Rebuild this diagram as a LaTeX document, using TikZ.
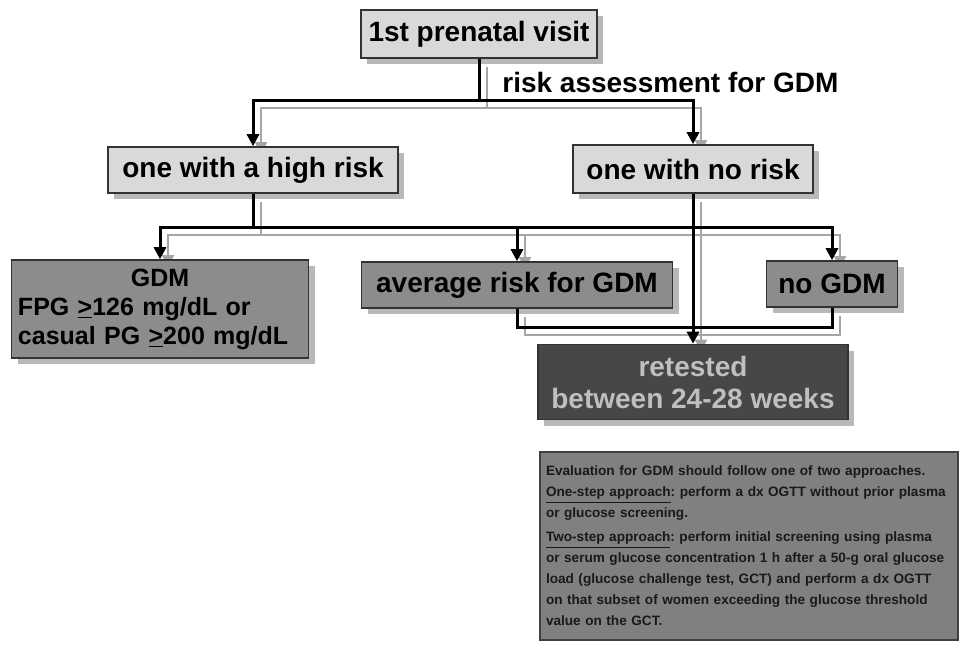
\documentclass[tikz,border=0pt]{standalone}
\usepackage{fontspec}
\setmainfont{Liberation Sans}
\usetikzlibrary{arrows.meta,shadows,backgrounds}

\tikzset{
  box/.style={draw=black!80, line width=0.8pt, inner sep=0pt, align=center,
    font=\bfseries\fontsize{14}{16}\selectfont,
    drop shadow={shadow xshift=3pt, shadow yshift=-3pt, fill=black!28, opacity=1}},
  lightbox/.style={box, fill=black!15},
  midbox/.style={box, fill=black!45},
  darkbox/.style={box, fill=black!72, text=black!25},
  notebox/.style={draw=black!75, line width=0.6pt, fill=black!50, text=black!90,
    inner xsep=3pt, inner ysep=0pt, text width=203pt, minimum height=94pt, align=left,
    font=\bfseries\fontsize{6.8}{10.5}\selectfont\frenchspacing},
  caption/.style={inner sep=0pt, font=\bfseries\fontsize{14}{16}\selectfont},
  link/.style={line width=1.5pt, black},
  linkshade/.style={line width=1pt, black!35},
  tip/.style={-{Triangle[width=6pt,length=6pt]}},
}

% all connectors, drawn once as shadow and once in black
\newcommand{\flowlinks}[1]{%
  \draw[#1] (top.south) -- (top.south |- lvl1);
  \draw[#1, tip] (top.south |- lvl1) -| (high.north);
  \draw[#1, tip] (top.south |- lvl1) -| (norisk.north);
  \draw[#1] (high.south) -- (high.south |- lvl2);
  \draw[#1, tip] (high.south |- lvl2) -| (gdm.north);
  \draw[#1, tip] (high.south |- lvl2) -| (nogdm.north);
  \draw[#1, tip] (avg.north |- lvl2) -- (avg.north);
  \draw[#1] (avg.south) -- (avg.south |- lvl3) -| (nogdm.south);
  \draw[#1, tip] (norisk.south) -- (retest.north);
}

\begin{document}
\begin{tikzpicture}[x=0.5pt, y=-0.5pt]
  \useasboundingbox (0,0) rectangle (964,654);

  \coordinate (lvl1) at (0,100);
  \coordinate (lvl2) at (0,227);
  \coordinate (lvl3) at (0,327);

  \node[lightbox, minimum width=118pt, minimum height=24pt] (top) at (479,34) {1st prenatal visit};
  \node[caption, anchor=west] (assess) at (502,82) {risk assessment for GDM};

  \node[lightbox, minimum width=145pt, minimum height=23pt] (high) at (253,170) {one with a high risk};
  \node[lightbox, minimum width=120pt, minimum height=24pt] (norisk) at (693,169) {one with no risk};

  \node[midbox, minimum width=148.5pt, minimum height=49pt, text width=142pt, align=left,
    font=\bfseries\fontsize{12.5}{14.5}\selectfont] (gdm) at (160,309)
    {\makebox[\linewidth]{GDM}\\
     FPG \underline{>}126 mg/dL or\\
     casual PG \underline{>}200 mg/dL};
  \node[midbox, minimum width=155.5pt, minimum height=23pt] (avg) at (517,285) {average risk for GDM};
  \node[midbox, minimum width=65.5pt, minimum height=23pt] (nogdm) at (832,284) {no GDM};

  \node[darkbox, minimum width=155pt, minimum height=37.5pt] (retest) at (693,382)
    {retested\\between 24-28 weeks};

  \node[notebox] (note) at (749,546)
    {Evaluation for GDM should follow one of two approaches.\\
     \underline{One-step approach}: perform a dx OGTT without prior plasma\\
     or glucose screening.\\[1.5pt]
     \underline{Two-step approach}: perform initial screening using plasma\\
     or serum glucose concentration 1 h after a 50-g oral glucose\\
     load (glucose challenge test, GCT) and perform a dx OGTT\\
     on that subset of women exceeding the glucose threshold\\
     value on the GCT.};

  \begin{scope}[on background layer]
    \begin{scope}[transform canvas={shift={(4pt,-4pt)}}]
      \flowlinks{linkshade}
    \end{scope}
  \end{scope}
  \flowlinks{link}
\end{tikzpicture}
\end{document}
